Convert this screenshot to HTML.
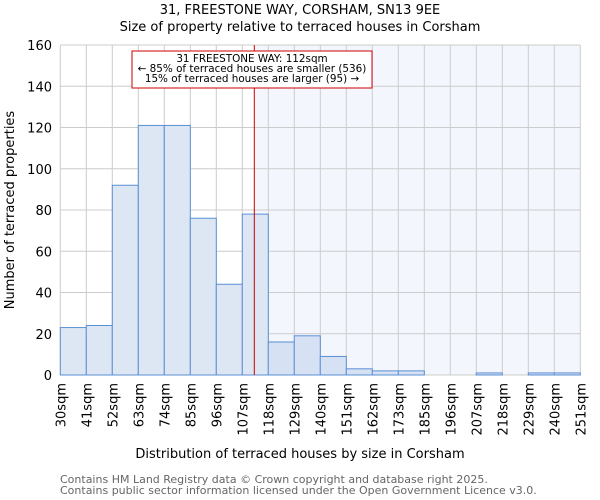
<!DOCTYPE html>
<html><head><meta charset="utf-8"><style>body{margin:0;background:#fff}svg{display:block;font-family:"DejaVu Sans","Liberation Sans",sans-serif}</style></head><body>
<svg width="600" height="500" viewBox="0 0 600 500">
<rect x="254.3" y="45" width="325.7" height="330" fill="#f3f6fd"/>
<g stroke="#cccccc" stroke-width="1" id="grid"></g>
<g id="bars"></g>
<line x1="254.3" y1="45" x2="254.3" y2="375" stroke="#cc0000" stroke-width="1"/>
<rect x="132" y="51" width="240" height="37" fill="#fff" stroke="#cc0000" stroke-width="1"/>
<g font-size="10.4" text-anchor="middle" fill="#000">
<text x="252" y="62">31 FREESTONE WAY: 112sqm</text>
<text x="252" y="72">← 85% of terraced houses are smaller (536)</text>
<text x="252" y="82">15% of terraced houses are larger (95) →</text>
</g>
<g font-size="13" text-anchor="middle">
<text x="300" y="14">31, FREESTONE WAY, CORSHAM, SN13 9EE</text>
<text x="300" y="31">Size of property relative to terraced houses in Corsham</text>
<text x="300" y="458">Distribution of terraced houses by size in Corsham</text>
<text transform="translate(14,210) rotate(-90)">Number of terraced properties</text>
</g>
<g font-size="13" text-anchor="end" id="yt"></g>
<g font-size="13" text-anchor="end" id="xt"></g>
<g font-size="11" fill="#666">
<text x="60" y="483">Contains HM Land Registry data © Crown copyright and database right 2025.</text>
<text x="60" y="494">Contains public sector information licensed under the Open Government Licence v3.0.</text>
</g>
<script>
var ns="http://www.w3.org/2000/svg";
function el(p,t,a,tx){var e=document.createElementNS(ns,t);for(var k in a)e.setAttribute(k,a[k]);if(tx!=null)e.textContent=tx;document.getElementById(p).appendChild(e);}
var L=60.3,W=26,B=375,S=330/160;
var vals=[23,24,92,121,121,76,44,78,16,19,9,3,2,2,0,0,1,0,1,1];
var labs=["30","41","52","63","74","85","96","107","118","129","140","151","162","173","185","196","207","218","229","240","251"];
for(var i=0;i<=20;i++){var x=L+i*W;el("grid","line",{x1:x,y1:45,x2:x,y2:B});
el("xt","text",{transform:"translate("+(x+5)+",383) rotate(-90)"},labs[i]+"sqm");}
for(var v=0;v<=160;v+=20){var y=B-v*S;el("grid","line",{x1:L,y1:y,x2:580,y2:y});el("yt","text",{x:52,y:y+5},v);}
for(var i=0;i<20;i++){var h=vals[i]*S;if(h>0)el("bars","rect",{x:L+i*W,y:B-h,width:W,height:h,fill:i<8?"#dde7f4":"#d6e1f3",stroke:"#5b8fd6","stroke-width":1});}
</script>
</svg>
</body></html>
